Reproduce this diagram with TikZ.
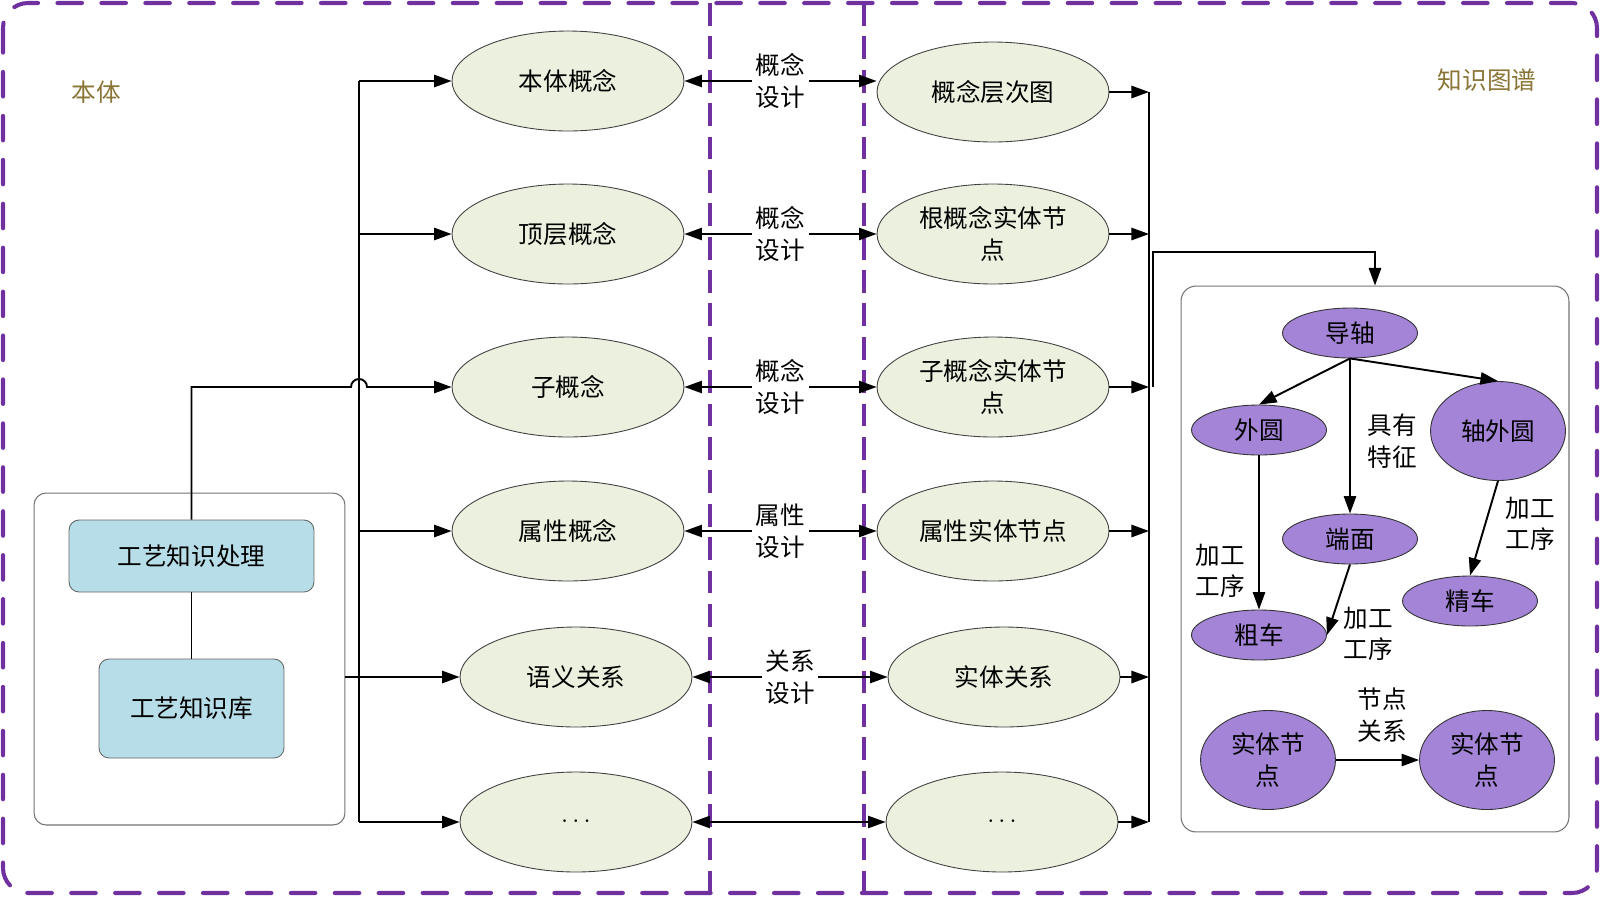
\documentclass[tikz,border=0pt]{standalone}
\usepackage{fontspec}
\setmainfont{Noto Sans CJK SC}
\usetikzlibrary{shapes.geometric,arrows.meta}
\definecolor{dashpurple}{HTML}{7030A0}
\definecolor{greenfill}{HTML}{EBF1DE}
\definecolor{bluefill}{HTML}{B7DEE8}
\definecolor{kgpurple}{HTML}{A384D6}
\definecolor{olivetxt}{HTML}{8A7536}
\begin{document}
\begin{tikzpicture}[x=0.02cm,y=-0.02cm,
  txt/.style={font=\fontsize{14}{18}\selectfont, align=center},
  gell/.style={txt, ellipse, draw=black!75, line width=0.5pt, fill=greenfill, minimum width=4.64cm, minimum height=2cm, inner sep=0pt},
  pell/.style={txt, ellipse, draw=black!80, line width=0.5pt, fill=kgpurple, minimum width=2.7cm, minimum height=1cm, inner sep=0pt},
  pbig/.style={pell, minimum height=1.98cm},
  bbox/.style={txt, rectangle, rounded corners=0.2cm, draw=black!60, line width=0.5pt, fill=bluefill, inner sep=0pt},
  cbox/.style={rectangle, draw=black!55, line width=0.6pt, inner sep=0pt},
  conn/.style={line width=1.1pt, -{Triangle[length=10pt,width=7pt]}},
  biconn/.style={line width=0.9pt, {Triangle[length=10pt,width=7pt]}-{Triangle[length=10pt,width=7pt]}},
  busline/.style={line width=1.1pt},
  lbl/.style={txt, fill=white, inner sep=2pt},
  pdash/.style={dashpurple, line width=1.9pt, dash pattern=on 13pt off 6pt},
  outerframe/.style={dashpurple, line width=2.3pt, dash pattern=on 14pt off 11pt, line cap=round, rounded corners=0.5cm},
  ]
\useasboundingbox (0,0) rectangle (1600,897);
% frame and separators
\draw[outerframe] (3,3) rectangle (1597,893);
\draw[pdash] (710,3) -- (710,893);
\draw[pdash] (864,3) -- (864,893);

% titles
\node[txt, text=olivetxt] (lbont) at (96,92) {本体};
\node[txt, text=olivetxt] (lbkg) at (1487,80) {知识图谱};

% containers
\node[cbox, rounded corners=0.24cm, minimum width=6.22cm, minimum height=6.64cm] (cont) at (189.5,659) {};
\node[cbox, rounded corners=0.3cm, minimum width=7.76cm, minimum height=10.92cm] (KG) at (1375,559) {};
\node[bbox, minimum width=4.9cm, minimum height=1.44cm] (proc) at (191.5,556) {工艺知识处理};
\node[bbox, minimum width=3.7cm, minimum height=1.98cm] (lib) at (191.5,708.5) {工艺知识库};
\draw[busline] (proc.south) -- (lib.north);

% left ellipses
\node[gell] (L1) at (568,81) {本体概念};
\node[gell] (L2) at (568,234) {顶层概念};
\node[gell] (L3) at (568,387) {子概念};
\node[gell] (L4) at (568,531) {属性概念};
\node[gell] (L5) at (576,677) {语义关系};
\node[gell] (L6) at (576,822) {$\cdots$};

% right ellipses
\node[gell] (R1) at (993,92) {概念层次图};
\node[gell] (R2) at (993,234) {根概念实体节\\点};
\node[gell] (R3) at (993,387) {子概念实体节\\点};
\node[gell] (R4) at (993,531) {属性实体节点};
\node[gell] (R5) at (1004,677) {实体关系};
\node[gell] (R6) at (1002,822) {$\cdots$};

% design arrows
\draw[biconn] (L1.east) -- (L1.east -| R1.west) node[lbl, midway] {概念\\设计};
\draw[biconn] (L2.east) -- (R2.west) node[lbl, midway] {概念\\设计};
\draw[biconn] (L3.east) -- (R3.west) node[lbl, midway] {概念\\设计};
\draw[biconn] (L4.east) -- (R4.west) node[lbl, midway] {属性\\设计};
\draw[biconn] (L5.east) -- (R5.west) node[lbl, midway] {关系\\设计};
\draw[biconn] (L6.east) -- (R6.west);

% left bus
\coordinate (bt) at (359,81);
\coordinate (bb) at (359,822);
\draw[busline] (bt) -- (bb);
\draw[conn] (L1.west -| bt) -- (L1.west);
\draw[conn] (L2.west -| bt) -- (L2.west);
\draw[conn] (L4.west -| bt) -- (L4.west);
\draw[conn] (L6.west -| bt) -- (L6.west);
\draw[conn] (cont.east |- L5.west) -- (L5.west);
\coordinate (j1) at (351,387);
\draw[conn] (proc.north) |- (j1) arc[start angle=180, end angle=0, radius=0.16cm] -- (L3.west);

% right bus
\coordinate (rbt) at (1149,92);
\coordinate (rbb) at (1149,822);
\draw[busline] (rbt) -- (rbb);
\draw[conn] (R1.east) -- (R1.east -| rbt);
\draw[conn] (R2.east) -- (R2.east -| rbt);
\draw[conn] (R3.east) -- (R3.east -| rbt);
\draw[conn] (R4.east) -- (R4.east -| rbt);
\draw[conn] (R5.east) -- (R5.east -| rbt);
\draw[conn] (R6.east) -- (R6.east -| rbt);
\coordinate (rs) at (1153,387);
\coordinate (rk) at (1153,252);
\draw[conn] (rs) -- (rk) -| (KG.north);

% knowledge graph
\node[pell] (DZ) at (1350,333) {导轴};
\node[pell] (WY) at (1259,430) {外圆};
\node[pbig] (ZWY) at (1498,431) {轴外圆};
\node[pell] (DM) at (1350,539) {端面};
\node[pell] (JC) at (1470,601) {精车};
\node[pell] (CC) at (1259,635) {粗车};
\node[pbig] (ST1) at (1268,760) {实体节\\点};
\node[pbig] (ST2) at (1487,760) {实体节\\点};

\draw[conn] (DZ.south) -- (WY.north);
\draw[conn] (DZ.south) -- (DM.north);
\draw[conn] (DZ.south) -- (ZWY.north);
\draw[conn] (WY.south) -- (CC.north);
\draw[conn] (DM.south) -- (CC.east);
\draw[conn] (ZWY.south) -- (JC.north);
\draw[conn] (ST1.east) -- (ST2.west);

\node[txt] (t1) at (1392,441) {具有\\特征};
\node[txt] (t2) at (1220,571) {加工\\工序};
\node[txt] (t3) at (1368,634) {加工\\工序};
\node[txt] (t4) at (1530,524) {加工\\工序};
\node[txt] (t5) at (1382,715) {节点\\关系};
\end{tikzpicture}
\end{document}
